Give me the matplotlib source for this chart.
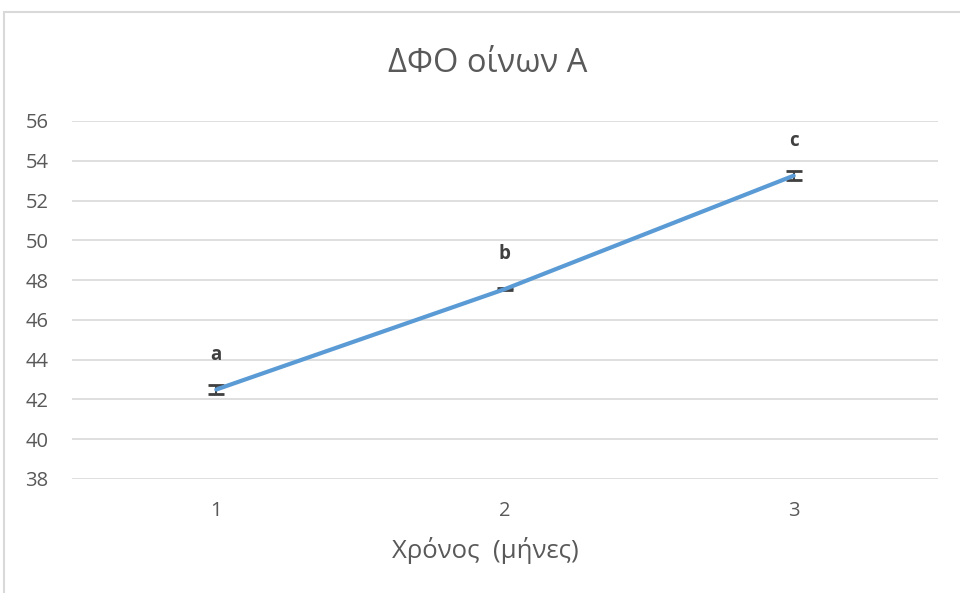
import matplotlib.pyplot as plt
from matplotlib.patches import Rectangle

plt.rcParams['font.family'] = ['Open Sans', 'DejaVu Sans']

months = [1, 2, 3]
dfo = [42.5, 47.55, 53.25]
err = [0.25, 0.06, 0.22]
letters = ['a', 'b', 'c']
yticks = [38, 40, 42, 44, 46, 48, 50, 52, 54, 56]

fig = plt.figure(figsize=(9.6, 5.93), dpi=100)
ax = fig.add_axes([72 / 960, 1 - 479 / 593, 866 / 960, 358 / 593])

# light frame of the chart area (cut on the right and bottom)
fig.patches.append(Rectangle((4 / 960, -0.1), 1.2, (593 - 12) / 593 + 0.1,
                             transform=fig.transFigure, fill=False,
                             edgecolor='#D9D9D9', linewidth=1.5))

ax.errorbar(months, dfo, yerr=err, fmt='none', ecolor='#404040',
            elinewidth=1.5, capsize=6, capthick=2, zorder=2)
ax.plot(months, dfo, color='#5B9BD5', linewidth=3, solid_capstyle='round', zorder=3)

for m, v, t in zip(months, dfo, letters):
    ax.annotate(t, (m, v), xytext=(0, 25), textcoords='offset points',
                ha='center', va='center', fontsize=13.5, fontweight='bold', color='#404040')

ax.set_xlim(0.5, 3.5)
ax.set_ylim(38, 56)
ax.set_xticks(months)
ax.set_yticks(yticks)
ax.grid(axis='y', color='#D9D9D9', linewidth=1.2)
ax.set_axisbelow(True)
for s in ax.spines.values():
    s.set_visible(False)
ax.tick_params(length=0, labelsize=14.5, labelcolor='#595959')
ax.tick_params(axis='x', pad=16)
ax.tick_params(axis='y', pad=17)

fig.text(488 / 960, 1 - 63 / 593, 'ΔΦΟ οίνων Α', fontsize=23.5, color='#595959',
         ha='center', va='center')
fig.text(485 / 960, 1 - 551 / 593, 'Χρόνος  (μήνες)', fontsize=18.5, color='#595959',
         ha='center', va='center')

fig.savefig('out.png', dpi=100)
